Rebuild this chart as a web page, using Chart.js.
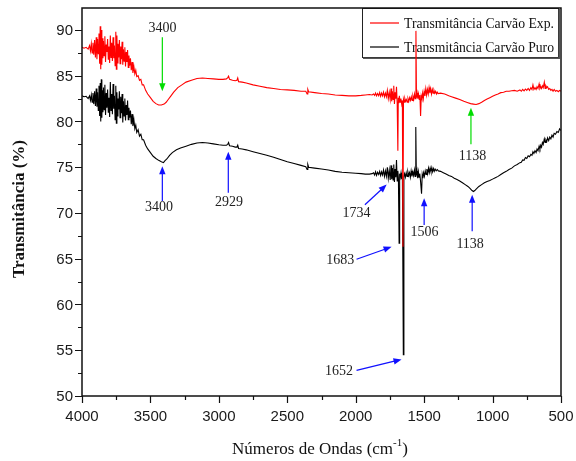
<!DOCTYPE html>
<html>
<head>
<meta charset="utf-8">
<script src="https://cdn.jsdelivr.net/npm/chart.js@4.4.1/dist/chart.umd.min.js"></script>
<style>
  html, body { margin: 0; padding: 0; background: #fff; }
  #wrap { width: 576px; height: 461px; }
</style>
</head>
<body>
<div id="wrap"><canvas id="ftir" width="576" height="461"></canvas></div>
<script>
// eixos
const xTicks = [4000, 3500, 3000, 2500, 2000, 1500, 1000, 500];
const yTicks = [50, 55, 60, 65, 70, 75, 80, 85, 90];
const seriesNames = ['Transmitância Carvão Exp.', 'Transmitância Carvão Puro'];

// Carvão Exp. (vermelho)
const expX = [4000,3985,3970,3955,3945,3938,3932,3926,3920,3914,3908,3902,3896,3891,3886,3881,3876,3871,3867,3863,3859,3855,3851,3847,3843,3838,3833,3828,3823,3818,3813,3808,3803,3798,3793,3788,3783,3778,3773,3768,3763,3758,3753,3749,3745,3741,3737,3732,3727,3722,3717,3712,3707,3702,3697,3692,3687,3682,3677,3672,3667,3662,3657,3652,3646,3640,3634,3628,3621,3614,3607,3600,3590,3580,3570,3560,3550,3535,3520,3500,3480,3460,3440,3420,3400,3385,3370,3350,3330,3300,3270,3240,3200,3160,3120,3080,3040,3000,2970,2945,2935,2929,2922,2900,2880,2868,2862,2856,2830,2800,2750,2700,2650,2600,2550,2500,2450,2400,2365,2355,2350,2344,2300,2250,2200,2150,2100,2050,2000,1960,1930,1900,1880,
  1870,1862,1855,1848,1840,1832,1825,1818,1811,1804,1797,1790,1783,1776,1769,1762,1755,1748,1742,1737,1732,1727,1722,1717,1712,1707,1702,1697,1692,1689,1685,1681,1676,1670,1664,1659,1655,1651,1646,1641,1636,1630,1624,1618,1612,1606,1600,1594,1588,1582,1576,1570,1565,1560,1556,1551,1546,1541,1536,1531,1526,1521,1516,1511,1506,1500,1494,1488,1482,1476,1470,1464,1458,1452,1446,1440,1434,1428,1422,1416,1410,1404,1398,
  1380,1350,1320,1300,1270,1240,1210,1180,1160,1140,1120,1100,1080,1060,1040,1020,1000,980,960,940,920,900,880,860,840,820,800,790,780,770,760,750,740,730,720,712,705,698,690,682,675,668,660,654,648,642,636,630,622,616,610,604,598,590,582,574,566,558,550,540,530,520,510,500];
const expY = [88.1,88.0,88.1,87.9,88.3,87.7,88.5,87.5,88.6,87.3,88.9,87.0,89.2,86.8,89.0,87.4,89.6,86.3,90.4,85.7,90.0,86.2,89.1,86.9,88.8,87.2,89.3,86.5,88.4,87.6,89.0,86.8,88.2,86.4,89.4,87.0,88.6,86.6,89.2,86.9,88.3,86.1,89.8,85.7,89.4,86.4,88.5,87.0,88.9,86.3,88.2,86.8,88.7,86.2,87.9,86.6,88.1,86.0,87.6,86.5,87.8,85.9,87.2,86.1,86.9,85.6,86.5,85.3,86.0,85.2,85.6,84.9,85.0,84.5,84.6,84.0,84.0,83.4,83.0,82.6,82.2,81.95,81.8,81.8,81.9,82.1,82.4,82.8,83.2,83.7,84.0,84.3,84.5,84.7,84.75,84.7,84.65,84.6,84.6,84.65,84.8,84.95,84.6,84.5,84.45,84.5,84.75,84.35,84.3,84.2,84.0,83.85,83.7,83.6,83.5,83.45,83.4,83.3,83.3,83.0,83.5,83.25,83.15,83.05,83.0,82.9,82.85,82.8,82.8,82.85,82.9,82.95,82.9,
  83.0,82.85,83.1,82.8,83.05,82.8,83.15,82.75,83.1,82.8,83.2,82.7,83.1,82.7,83.4,82.5,83.2,82.4,83.6,82.2,83.3,82.4,83.9,81.9,83.2,82.5,83.8,82.0,76.8,82.6,82.0,82.8,82.1,82.5,81.9,82.3,66.3,82.4,82.1,82.5,82.2,82.4,82.1,82.5,82.2,82.6,82.3,82.7,82.3,82.8,82.4,83.0,82.5,89.9,82.6,83.1,82.5,83.0,82.4,82.9,80.6,82.8,82.5,83.1,82.5,83.3,82.8,83.6,82.9,83.5,83.0,83.7,83.1,83.6,83.0,83.5,83.1,83.4,83.1,83.3,83.0,83.2,83.05,
  83.1,83.0,82.8,82.7,82.55,82.4,82.2,82.05,81.95,81.9,81.85,81.95,82.1,82.3,82.45,82.6,82.75,82.9,83.0,83.15,83.2,83.3,83.3,83.35,83.4,83.3,83.45,83.3,83.5,83.35,83.55,83.4,83.6,83.4,83.7,83.5,84.0,83.5,83.7,83.5,83.8,83.6,84.1,83.6,83.8,83.6,83.9,83.7,84.3,83.6,83.9,83.7,83.8,83.5,83.6,83.4,83.5,83.3,83.5,83.3,83.4,83.25,83.4,83.3];

// Carvão Puro (preto)
const puroX = [4000,3985,3970,3955,3945,3938,3932,3926,3920,3914,3908,3902,3896,3891,3886,3881,3876,3871,3867,3863,3859,3855,3851,3847,3843,3838,3833,3828,3823,3818,3813,3808,3803,3798,3793,3788,3783,3778,3773,3768,3763,3758,3753,3749,3745,3741,3737,3732,3727,3722,3717,3712,3707,3702,3697,3692,3687,3682,3677,3672,3667,3662,3657,3652,3646,3640,3634,3628,3621,3614,3607,3600,3590,3580,3570,3560,3550,3535,3520,3500,3480,3460,3440,3420,3405,3395,3380,3360,3340,3310,3280,3240,3200,3160,3120,3080,3040,3000,2970,2945,2935,2929,2922,2900,2880,2868,2862,2856,2830,2800,2750,2700,2650,2600,2550,2500,2450,2400,2365,2355,2350,2344,2300,2250,2200,2150,2100,2050,2000,1960,1930,1900,1880,
  1870,1862,1855,1848,1840,1832,1825,1818,1811,1804,1797,1790,1783,1776,1769,1762,1755,1748,1742,1737,1732,1727,1722,1717,1712,1707,1702,1697,1692,1688,1683,1679,1674,1669,1664,1659,1652,1648,1643,1637,1631,1625,1619,1613,1607,1601,1595,1589,1583,1577,1571,1566,1561,1557,1552,1547,1542,1537,1532,1527,1519,1514,1509,1504,1498,1492,1486,1480,1474,1468,1462,1456,1450,1444,1438,1432,1426,1420,1412,1404,1396,
  1380,1360,1340,1320,1300,1280,1260,1240,1220,1200,1180,1165,1150,1140,1130,1120,1100,1080,1060,1040,1020,1000,980,960,940,920,900,880,860,840,820,800,790,780,770,760,750,740,730,720,712,705,698,690,682,675,668,660,654,648,642,636,630,622,616,610,604,598,590,582,574,566,558,550,540,530,520,510,500];
const puroY = [82.8,82.7,82.75,82.5,82.8,82.3,82.9,82.1,83.1,81.9,83.3,81.7,83.6,81.6,83.2,81.2,83.9,80.6,84.2,80.0,84.6,80.4,83.4,81.0,83.7,81.3,84.0,80.7,83.1,81.5,83.5,81.0,82.6,80.5,84.3,81.2,83.0,80.8,84.1,81.4,82.8,80.2,83.9,79.8,83.2,80.6,82.5,81.3,83.3,80.4,82.7,80.9,83.0,79.9,82.2,80.6,82.5,80.1,81.8,80.7,82.3,80.2,81.5,80.4,81.2,79.7,80.8,79.5,80.2,79.2,79.6,78.8,79.1,78.4,78.6,78.0,78.0,77.4,77.0,76.6,76.2,75.95,75.75,75.6,75.5,75.7,75.9,76.3,76.6,76.9,77.1,77.3,77.5,77.65,77.7,77.65,77.55,77.45,77.4,77.4,77.5,77.7,77.35,77.3,77.2,77.2,77.4,77.05,77.0,76.9,76.7,76.5,76.3,76.1,75.85,75.6,75.4,75.2,75.05,74.75,75.3,75.0,74.9,74.8,74.7,74.55,74.45,74.4,74.35,74.3,74.25,74.25,74.3,
  74.4,74.15,74.5,74.1,74.45,74.2,74.55,74.1,74.5,74.15,74.7,74.0,74.6,74.0,75.0,73.8,74.7,73.6,75.2,73.7,74.9,73.6,75.3,73.4,74.8,73.9,75.8,73.5,74.6,73.8,66.7,74.3,73.9,74.4,73.7,74.2,54.5,74.0,74.3,73.9,74.4,74.0,74.5,74.1,74.4,73.9,74.6,74.0,74.5,74.1,74.7,74.0,79.4,74.1,74.6,73.8,74.5,73.9,74.3,73.6,72.1,74.2,73.8,74.4,74.0,74.6,74.2,74.8,74.3,74.9,74.4,74.9,74.5,74.95,74.5,74.85,74.55,74.8,74.6,74.75,74.6,
  74.55,74.4,74.25,74.1,74.0,73.8,73.65,73.5,73.3,73.1,72.9,72.7,72.45,72.35,72.45,72.6,72.9,73.1,73.3,73.45,73.55,73.7,73.85,74.0,74.2,74.4,74.55,74.75,74.9,75.15,75.3,75.5,75.55,75.8,75.75,76.05,75.95,76.25,76.15,76.4,76.3,76.7,76.5,76.8,76.6,77.0,76.8,77.3,77.0,77.4,77.2,77.7,77.5,78.1,77.7,78.0,77.8,78.2,77.9,78.3,78.1,78.5,78.3,78.7,78.6,78.9,78.8,79.2,79.0];

// setas de anotação (em unidades do gráfico: número de onda, transmitância)
const arrows = [
  { text: '3400', color: '#00dd00', from: [3413, 89.2], to: [3413, 83.3], label: [3412, 90.2] },
  { text: '3400', color: '#1010ff', from: [3413, 71.3], to: [3413, 75.1], label: [3437, 70.6] },
  { text: '2929', color: '#1010ff', from: [2931, 72.2], to: [2931, 76.7], label: [2925, 71.2] },
  { text: '1138', color: '#00dd00', from: [1158, 77.5], to: [1158, 81.5], label: [1146, 76.2] },
  { text: '1734', color: '#1010ff', from: [1933, 70.9], to: [1774, 73.1], label: [1994, 70.0] },
  { text: '1506', color: '#1010ff', from: [1500, 68.7], to: [1500, 71.6], label: [1497, 67.85] },
  { text: '1138', color: '#1010ff', from: [1149, 68.0], to: [1149, 72.0], label: [1164, 66.55] },
  { text: '1683', color: '#1010ff', from: [1994, 64.95], to: [1738, 66.3], label: [2113, 64.8] },
  { text: '1652', color: '#1010ff', from: [1994, 52.8], to: [1665, 54.0], label: [2122, 52.7] }
];

const toPoints = (xs, ys) => xs.map((x, i) => ({ x: x, y: ys[i] }));

const serif = '"Liberation Serif", "Times New Roman", serif';
const sans = '"Liberation Sans", Arial, sans-serif';

// legenda desenhada antes das linhas (o pico vermelho passa por cima dela)
const legendBox = {
  id: 'legendBox',
  beforeDatasetsDraw(chart) {
    const ctx = chart.ctx;
    const a = chart.chartArea;
    ctx.save();
    const bx = 362, by = a.top, bw = a.right - 3 - bx, bh = 49;
    ctx.fillStyle = '#fff';
    ctx.fillRect(bx, by, bw, bh);
    ctx.strokeStyle = '#222';
    ctx.lineWidth = 1;
    ctx.strokeRect(bx + 0.5, by + 0.5, bw, bh);
    ctx.fillStyle = '#555';
    ctx.fillRect(bx + 1, by + bh + 0.5, bw + 1, 1.5);
    ctx.fillRect(bx + bw + 0.5, by + 1, 1.5, bh + 1);
    const colors = ['#ff0000', '#000000'];
    seriesNames.forEach((name, i) => {
      const yy = by + 15 + i * 24;
      ctx.strokeStyle = colors[i];
      ctx.lineWidth = 1.2;
      ctx.beginPath();
      ctx.moveTo(bx + 8, yy);
      ctx.lineTo(bx + 37, yy);
      ctx.stroke();
      ctx.fillStyle = '#111';
      ctx.font = '14px ' + serif;
      ctx.textAlign = 'left';
      ctx.textBaseline = 'middle';
      ctx.fillText(name, bx + 42, yy + 1, bw - 46);
    });
    ctx.restore();
  }
};

// moldura, marcas, rótulos e setas
const decor = {
  id: 'decor',
  afterDraw(chart) {
    const ctx = chart.ctx;
    const a = chart.chartArea;
    const xs = chart.scales.x, ys = chart.scales.y;
    ctx.save();
    ctx.strokeStyle = '#111';
    ctx.lineWidth = 1.5;
    ctx.strokeRect(a.left, a.top, a.right - a.left, a.bottom - a.top);

    // marcas principais e secundárias
    ctx.lineWidth = 1.2;
    ctx.beginPath();
    for (let v = 500; v <= 4000; v += 250) {
      const px = Math.round(xs.getPixelForValue(v)) + 0.5;
      const len = (v % 500 === 0) ? 7 : 4;
      ctx.moveTo(px, a.bottom);
      ctx.lineTo(px, a.bottom + len);
    }
    for (let v = 50; v <= 90; v += 2.5) {
      const py = Math.round(ys.getPixelForValue(v)) + 0.5;
      const len = (v % 5 === 0) ? 7 : 4;
      ctx.moveTo(a.left, py);
      ctx.lineTo(a.left - len, py);
    }
    ctx.stroke();

    // rótulos das marcas
    ctx.fillStyle = '#1a1a1a';
    ctx.font = '15px ' + sans;
    ctx.textAlign = 'center';
    ctx.textBaseline = 'middle';
    xTicks.forEach(v => ctx.fillText(String(v), xs.getPixelForValue(v), a.bottom + 21));
    ctx.textAlign = 'right';
    yTicks.forEach(v => ctx.fillText(String(v), a.left - 9, ys.getPixelForValue(v) + 1));

    // títulos dos eixos
    ctx.fillStyle = '#111';
    ctx.save();
    ctx.translate(20, 209);
    ctx.rotate(-Math.PI / 2);
    ctx.font = 'bold 17px ' + serif;
    ctx.textAlign = 'center';
    ctx.fillText('Transmitância (%)', 0, 0);
    ctx.restore();

    const main = 'Números de Ondas (cm';
    ctx.font = '17px ' + serif;
    const w1 = ctx.measureText(main).width;
    ctx.font = '11px ' + serif;
    const w2 = ctx.measureText('-1').width;
    ctx.font = '17px ' + serif;
    const w3 = ctx.measureText(')').width;
    const tx = 320 - (w1 + w2 + w3) / 2;
    const ty = 450;
    ctx.textAlign = 'left';
    ctx.fillText(main, tx, ty);
    ctx.font = '11px ' + serif;
    ctx.fillText('-1', tx + w1, ty - 7);
    ctx.font = '17px ' + serif;
    ctx.fillText(')', tx + w1 + w2, ty);

    // setas
    arrows.forEach(ar => {
      const x0 = xs.getPixelForValue(ar.from[0]), y0 = ys.getPixelForValue(ar.from[1]);
      const x1 = xs.getPixelForValue(ar.to[0]), y1 = ys.getPixelForValue(ar.to[1]);
      const ang = Math.atan2(y1 - y0, x1 - x0);
      const hl = 8, hw = 3.2;
      ctx.strokeStyle = ar.color;
      ctx.fillStyle = ar.color;
      ctx.lineWidth = 1.2;
      ctx.beginPath();
      ctx.moveTo(x0, y0);
      ctx.lineTo(x1 - Math.cos(ang) * hl * 0.8, y1 - Math.sin(ang) * hl * 0.8);
      ctx.stroke();
      ctx.beginPath();
      ctx.moveTo(x1, y1);
      ctx.lineTo(x1 - Math.cos(ang) * hl - Math.sin(ang) * hw, y1 - Math.sin(ang) * hl + Math.cos(ang) * hw);
      ctx.lineTo(x1 - Math.cos(ang) * hl + Math.sin(ang) * hw, y1 - Math.sin(ang) * hl - Math.cos(ang) * hw);
      ctx.closePath();
      ctx.fill();
      ctx.fillStyle = '#222';
      ctx.font = '14px ' + serif;
      ctx.textAlign = 'center';
      ctx.textBaseline = 'middle';
      ctx.fillText(ar.text, xs.getPixelForValue(ar.label[0]), ys.getPixelForValue(ar.label[1]));
    });
    ctx.restore();
  }
};

new Chart(document.getElementById('ftir').getContext('2d'), {
  type: 'scatter',
  data: {
    datasets: [
      { label: seriesNames[0], data: toPoints(expX, expY), showLine: true, borderColor: '#ff0000', backgroundColor: '#ff0000', borderWidth: 1.1, pointRadius: 0, tension: 0 },
      { label: seriesNames[1], data: toPoints(puroX, puroY), showLine: true, borderColor: '#000000', backgroundColor: '#000000', borderWidth: 1.1, pointRadius: 0, tension: 0 }
    ]
  },
  options: {
    responsive: false,
    animation: false,
    devicePixelRatio: 1,
    layout: { padding: { left: 0, top: 8, right: 15, bottom: 0 } },
    plugins: { legend: { display: false }, tooltip: { enabled: false } },
    scales: {
      x: {
        type: 'linear', reverse: true, min: 500, max: 4000,
        grid: { display: false }, border: { display: false },
        ticks: { display: false },
        afterFit: s => { s.height = 65; }
      },
      y: {
        type: 'linear', min: 50, max: 92.4,
        grid: { display: false }, border: { display: false },
        ticks: { display: false },
        afterFit: s => { s.width = 82; }
      }
    }
  },
  plugins: [legendBox, decor]
});
</script>
</body>
</html>
